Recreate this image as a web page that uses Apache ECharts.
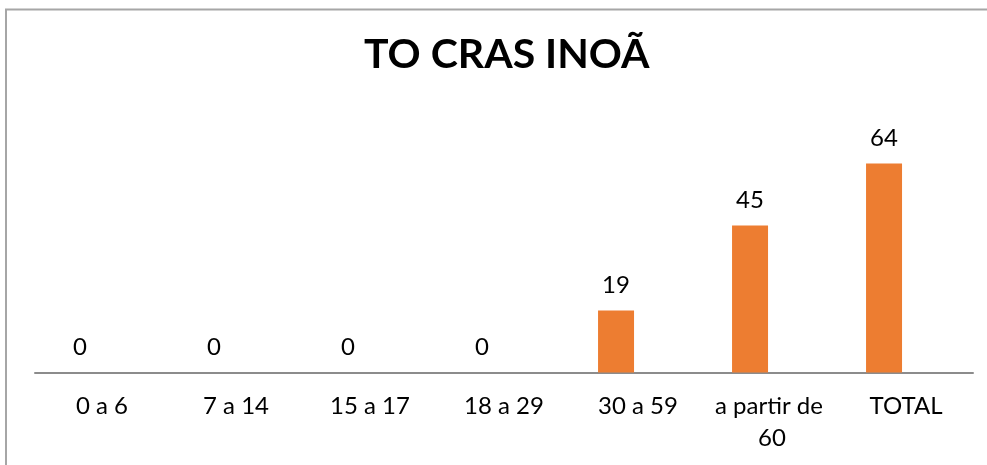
<!DOCTYPE html>
<html>
<head>
<meta charset="utf-8">
<script src="https://cdn.jsdelivr.net/npm/echarts@6/dist/echarts.min.js"></script>
<style>
    html, body { margin: 0; padding: 0; background: #fff; }
    #chart { width: 987px; height: 465px; }
</style>
</head>
<body>
<div id="chart"></div>
<script>
// dados do gráfico
const titulo = 'TO CRAS INOÃ';
const faixas = ['0 a 6', '7 a 14', '15 a 17', '18 a 29', '30 a 59', 'a partir de 60', 'TOTAL'];
const valores = [0, 0, 0, 0, 19, 45, 64];
// segunda série vazia (como no Excel original, empurra as barras para a esquerda)
const valoresVazios = [];

const chart = echarts.init(document.getElementById('chart'));

const fonte = 'Lato, "Open Sans", sans-serif';

const option = {
    backgroundColor: '#fff',
    animation: false,
    title: {
        text: titulo,
        left: 359,
        top: 29,
        textStyle: {
            fontFamily: fonte,
            fontWeight: 'bold',
            fontSize: 41,
            color: '#000'
        }
    },
    // borda da área do gráfico (só esquerda e topo aparecem)
    graphic: [{
        type: 'rect',
        shape: { x: 6, y: 9.5, width: 3000, height: 3000 },
        style: { fill: 'none', stroke: '#a6a6a6', lineWidth: 2 },
        silent: true
    }],
    grid: {
        left: 35,
        right: 14,
        top: 144,
        bottom: 92.5
    },
    xAxis: {
        type: 'category',
        data: faixas,
        axisLine: { show: true, lineStyle: { color: '#8c8c8c', width: 2 } },
        axisTick: { show: false },
        axisLabel: {
            interval: 0,
            margin: 18,
            width: 118,
            overflow: 'break',
            lineHeight: 32,
            fontFamily: fonte,
            fontSize: 24,
            color: '#000'
        }
    },
    yAxis: {
        type: 'value',
        min: 0,
        max: 70,
        show: false,
        splitLine: { show: false }
    },
    series: [{
        type: 'bar',
        data: valores,
        barWidth: 36,
        barGap: '22%',
        itemStyle: { color: '#ED7D31' },
        label: {
            show: true,
            position: 'top',
            distance: 13,
            fontFamily: fonte,
            fontSize: 24,
            color: '#000'
        }
    }, {
        type: 'bar',
        data: valoresVazios,
        barWidth: 36,
        barGap: '22%',
        itemStyle: { color: '#A5A5A5' }
    }]
};

chart.setOption(option);
</script>
</body>
</html>
